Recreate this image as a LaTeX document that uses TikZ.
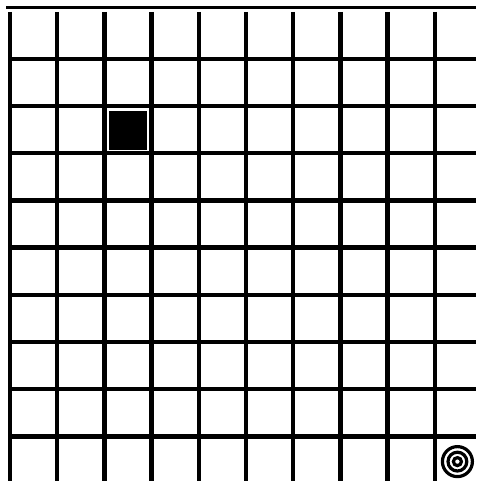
\documentclass[tikz,border=0pt]{standalone}
\begin{document}
\begin{tikzpicture}[x=1pt,y=-1pt]
  \useasboundingbox (0,0) rectangle (476,481);
  \fill[white] (0,0) rectangle (476,481);
  \draw[line width=2.8pt] (6,7.6) -- (476,7.6);
  \foreach \i in {0,...,9}
    \draw[line width=4.5pt] ({10+47.2*\i},12) -- ({10+47.2*\i},481);
  \foreach \j in {1,...,9}
    \draw[line width=4.5pt] (8,{11.6+47.2*\j}) -- (476,{11.6+47.2*\j});
  \fill[black] (108.8,111.5) rectangle (147.4,149.6);
  \foreach \r in {15,9.4,4}
    \draw[line width=3.2pt] (457.4,461.6) circle (\r);
\end{tikzpicture}
\end{document}
